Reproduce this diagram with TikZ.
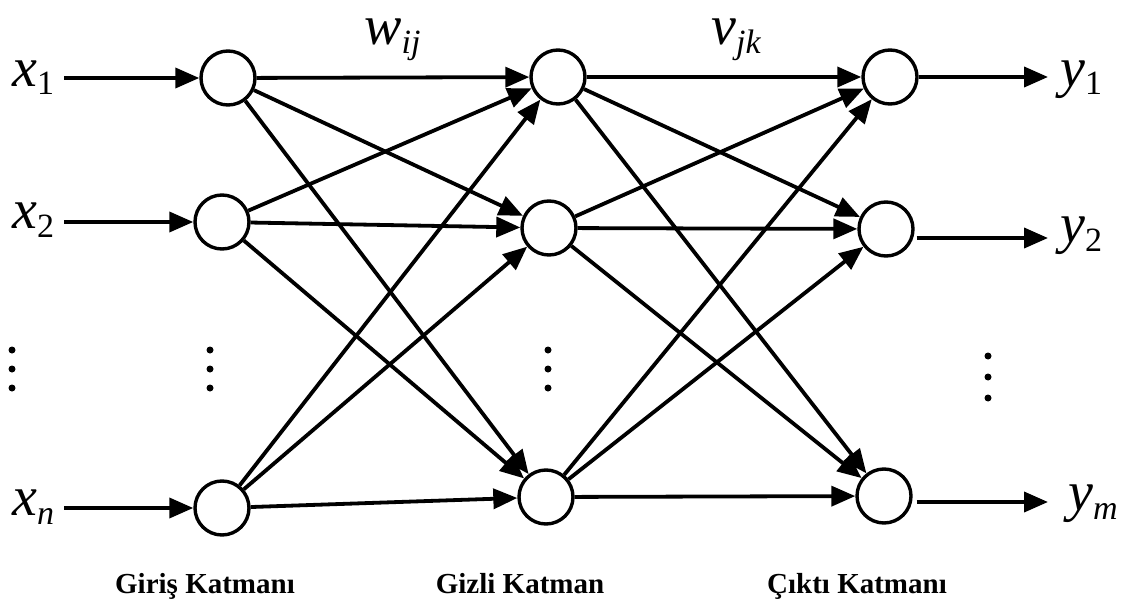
\documentclass[tikz,border=0pt]{standalone}
\usepackage{fontspec}
\setmainfont{Liberation Serif}
\usetikzlibrary{arrows.meta}
\newcommand{\vlab}[2]{{\fontsize{56}{64}\selectfont\itshape #1}\raisebox{-9pt}{\fontsize{34}{40}\selectfont #2}}
\begin{document}
\begin{tikzpicture}[x=1pt,y=-1pt,
  neuron/.style={draw,circle,line width=3.4pt,minimum size=54pt,inner sep=0pt,fill=white},
  conn/.style={line width=3.8pt,-{Triangle[length=24pt,width=20pt]}},
  lab/.style={inner sep=0pt,anchor=base west},
  layerlab/.style={font=\fontsize{29}{33}\selectfont\bfseries,inner sep=0pt,anchor=base},
  dot/.style={circle,fill=black,inner sep=0pt,minimum size=7pt}]
\useasboundingbox (0,0) rectangle (1138,610);
% nodes
\node[neuron] (i1) at (228,78) {};
\node[neuron] (i2) at (222,222) {};
\node[neuron] (i3) at (222,508) {};
\node[neuron] (h1) at (558,77) {};
\node[neuron] (h2) at (549,228) {};
\node[neuron] (h3) at (546,497) {};
\node[neuron] (o1) at (890,77) {};
\node[neuron] (o2) at (886,229) {};
\node[neuron] (o3) at (884,496) {};
% labels
\node[lab] (x1) at (12,86) {\vlab{x}{1}};
\node[lab] (x2) at (12,228) {\vlab{x}{2}};
\node[lab] (xn) at (12,515) {\vlab{x}{\itshape n}};
\node[lab] (y1) at (1060,86) {\vlab{y}{1}};
\node[lab] (y2) at (1060,242) {\vlab{y}{2}};
\node[lab] (ym) at (1068,510) {\vlab{y}{\itshape m}};
\node[lab] (w) at (364,45) {\vlab{w}{\itshape ij}};
\node[lab] (v) at (711,45) {\vlab{v}{\itshape jk}};
% input arrows
\coordinate (s1) at (64,78);
\coordinate (s2) at (64,222);
\coordinate (s3) at (64,508);
\draw[conn] (s1) -- (i1);
\draw[conn] (s2) -- (i2);
\draw[conn] (s3) -- (i3);
% output arrows
\coordinate (e1) at (1048,77);
\coordinate (e2) at (1048,238);
\coordinate (e3) at (1048,502);
\draw[conn] (o1) -- (e1);
\draw[conn] ([yshift=-9pt,xshift=2pt]o2.east) -- (e2);
\draw[conn] ([yshift=-6pt,xshift=4pt]o3.east) -- (e3);
% input to hidden
\foreach \a in {i1,i2,i3}{
  \foreach \b in {h1,h2,h3}{
    \draw[conn] (\a) -- (\b);
  }
}
% hidden to output
\foreach \a in {h1,h2,h3}{
  \foreach \b in {o1,o2,o3}{
    \draw[conn] (\a) -- (\b);
  }
}
% dots
\foreach \xx/\nm in {12/a,210/b,548/c}{
  \node[dot] (d\nm1) at (\xx,350) {};
  \node[dot] (d\nm2) at (\xx,369) {};
  \node[dot] (d\nm3) at (\xx,388) {};
}
\node[dot] (dd1) at (988,356) {};
\node[dot] (dd2) at (988,377) {};
\node[dot] (dd3) at (988,398) {};
% layer labels
\node[layerlab] (L1) at (205,593) {Giriş Katmanı};
\node[layerlab] (L2) at (520,593) {Gizli Katman};
\node[layerlab] (L3) at (857,593) {Çıktı Katmanı};
\end{tikzpicture}
\end{document}
